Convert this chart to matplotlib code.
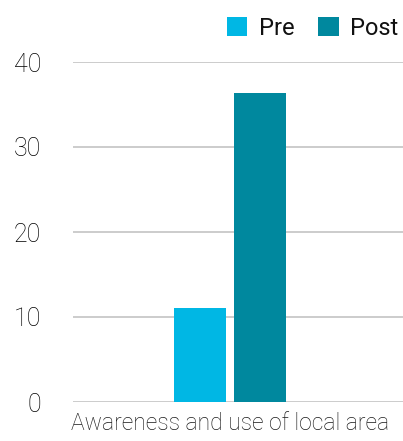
import matplotlib.pyplot as plt

categories = ['Awareness and use of local area']
series = ['Pre', 'Post']
pre_values = [11.1]
post_values = [36.3]
colors = ['#00B7E4', '#00889E']
y_ticks = [0, 10, 20, 30, 40]

plt.rcParams['font.family'] = ['Roboto', 'DejaVu Sans']

fig = plt.figure(figsize=(4.03, 4.41), dpi=100)
ax = fig.add_axes([73 / 403, 39 / 441, 330 / 403, 340 / 441])

width = 0.158
offset = 0.091
x = range(len(categories))
ax.bar([i - offset for i in x], pre_values, width, color=colors[0], label=series[0], zorder=3)
ax.bar([i + offset for i in x], post_values, width, color=colors[1], label=series[1], zorder=3)

ax.set_xlim(-0.476, 0.524)
ax.set_ylim(0, 40)
ax.set_yticks(y_ticks)
ax.set_xticks(list(x))
ax.set_xticklabels(categories)
ax.yaxis.grid(True, color='#c8c8c8', linewidth=1.3, zorder=0)
ax.set_axisbelow(True)
for s in ax.spines.values():
    s.set_visible(False)
ax.tick_params(axis='y', length=0, pad=23, labelsize=18, labelcolor='#000000')
ax.tick_params(axis='x', length=0, pad=7, labelsize=16.5, labelcolor='#1a1a1a')
for lbl in ax.get_xticklabels() + ax.get_yticklabels():
    lbl.set_fontweight('light')
for lbl in ax.get_xticklabels():
    lbl.set_x(0.01)

leg = fig.legend(loc='upper right', bbox_to_anchor=(1.03, 1.0), ncol=2, frameon=False,
                 fontsize=17, handlelength=0.85, handleheight=0.85, handletextpad=0.5,
                 columnspacing=1.0, borderaxespad=0.3)
for t in leg.get_texts():
    t.set_color('#111111')

fig.savefig('out.png', dpi=100)
